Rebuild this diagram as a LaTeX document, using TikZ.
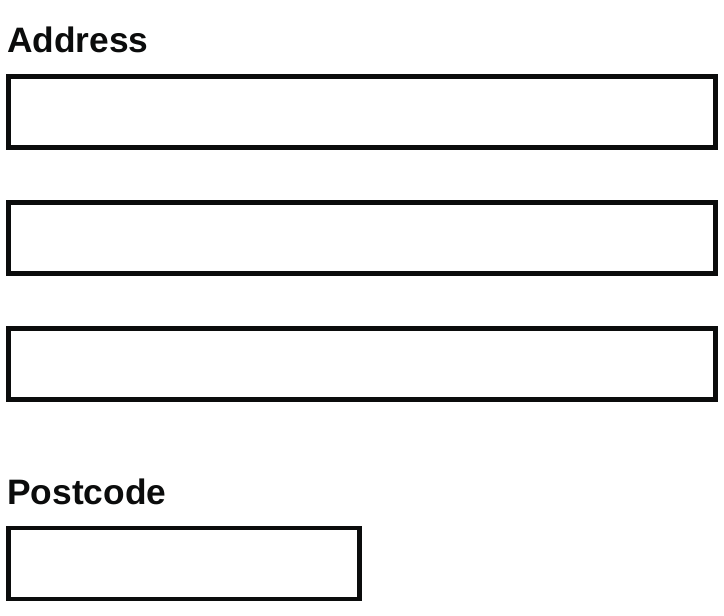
\documentclass[tikz,border=0pt]{standalone}
\usepackage{fontspec}
\setmainfont{Liberation Sans}
\definecolor{inkblack}{RGB}{11,12,12}
\tikzset{
  fieldlabel/.style={anchor=base west,inner sep=0pt,text=inkblack,font=\fontsize{26.5}{30}\selectfont\bfseries},
  fieldbox/.style={draw=inkblack,line width=3.4pt,inner sep=0pt,fill=white}
}
\begin{document}
\begin{tikzpicture}[x=0.75pt,y=0.75pt,yscale=-1,xscale=1]
\useasboundingbox (0,0) rectangle (724,616);

% Text Node
\node[fieldlabel] (addr) at (7,53) {Address};
%Shape: Rectangle [id:line1]
\node[fieldbox,minimum width=530.6pt,minimum height=53.6pt] (line1) at (362,112) {};
%Shape: Rectangle [id:line2]
\node[fieldbox,minimum width=530.6pt,minimum height=53.6pt] (line2) at (362,238) {};
%Shape: Rectangle [id:line3]
\node[fieldbox,minimum width=530.6pt,minimum height=53.6pt] (line3) at (362,364) {};

% Text Node
\node[fieldlabel] (post) at (7,504) {Postcode};
%Shape: Rectangle [id:pcode]
\node[fieldbox,minimum width=263.6pt,minimum height=53pt] (pcode) at (184,563.5) {};
\end{tikzpicture}
\end{document}
